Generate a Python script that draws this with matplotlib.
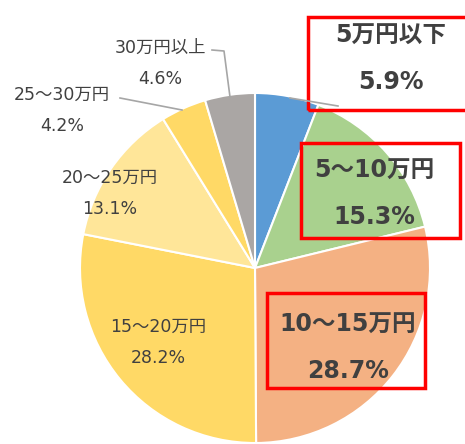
import matplotlib
matplotlib.use('Agg')
import matplotlib.pyplot as plt
from matplotlib.patches import Rectangle

# digits from DejaVu (wide, like the original), kanji fall back to Noto CJK
plt.rcParams['font.family'] = ['DejaVu Sans', 'Noto Sans CJK JP']

####################
# Data
labels = ['5万円以下', '5～10万円', '10～15万円', '15～20万円', '20～25万円', '25～30万円', '30万円以上']
values = [5.9, 15.3, 28.7, 28.2, 13.1, 4.2, 4.6]
colors = ['#5B9BD5', '#A9D18E', '#F4B183', '#FFD966', '#FFE699', '#FFD966', '#AAA6A4']
highlight = [True, True, True, False, False, False, False]

####################
# Layout (pixel coords, y measured from top)
W, H = 465, 444
center = (255, 268)
radius = 175
label_pos = [(391, 59), (374, 194), (348, 348), (158, 342), (110, 193), (62, 110), (160, 63)]
boxes = [(308, 17, 162, 93), (301, 143, 159, 95), (267, 293, 158, 95)]
leaders = {0: [(290, 98), (338, 106)],
           5: [(120, 98), (182, 110)],
           6: [(212, 50), (224, 51), (230, 97)]}

fig = plt.figure(figsize=(W / 100, H / 100), dpi=100)
ax = fig.add_axes([0, 0, 1, 1])

ax.pie(values, colors=colors, startangle=90, counterclock=False,
       center=(center[0], H - center[1]), radius=radius,
       wedgeprops=dict(edgecolor='white', linewidth=1.5), frame=False)
ax.set_xlim(0, W)
ax.set_ylim(0, H)
ax.set_aspect('equal')
ax.axis('off')

for i, pts in leaders.items():
    ax.plot([p[0] for p in pts], [H - p[1] for p in pts], color='#A6A6A6', lw=1.2)

for i, (lab, v) in enumerate(zip(labels, values)):
    x, y = label_pos[i]
    if highlight[i]:
        ax.text(x, H - y, f'{lab}\n{v:.1f}%', ha='center', va='center',
                fontsize=17, fontweight='bold', color='#404040', linespacing=2.15)
    else:
        ax.text(x, H - y, f'{lab}\n{v:.1f}%', ha='center', va='center',
                fontsize=12.5, color='#404040', linespacing=1.95)

for bx, by, bw, bh in boxes:
    ax.add_patch(Rectangle((bx, H - by - bh), bw, bh, fill=False,
                           edgecolor='#FF0000', lw=2.5, clip_on=False))

fig.savefig('out.png', dpi=100)
